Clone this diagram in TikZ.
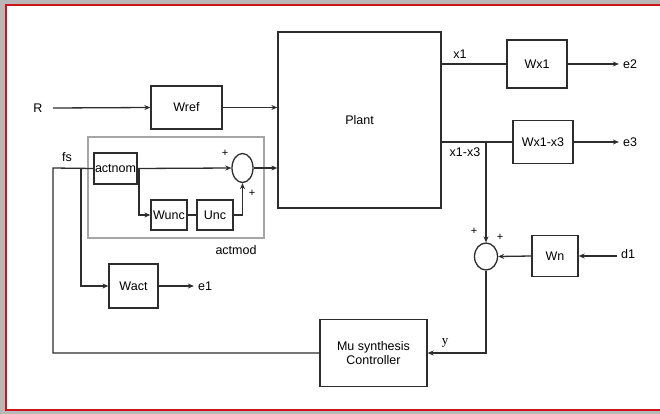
\documentclass[tikz,border=0pt]{standalone}
\usepackage{fontspec}
\setmainfont{Liberation Sans}
\newfontfamily\yfont{Liberation Serif}
\usetikzlibrary{shapes.geometric,arrows.meta,calc}
\definecolor{framered}{RGB}{205,20,25}
\definecolor{linegray}{RGB}{45,45,45}
\tikzset{
blk/.style={draw=linegray,line width=1.3pt,rectangle,inner sep=0pt,align=center,font=\fontsize{12.5}{14}\selectfont},
summer/.style={draw=linegray,line width=1.3pt,ellipse,inner sep=0pt},
sig/.style={linegray,line width=1.3pt},
flow/.style={sig,-{Stealth[length=6pt,width=5pt]}},
lbl/.style={inner sep=0pt,font=\fontsize{12.5}{14}\selectfont},
sgn/.style={inner sep=0pt,font=\fontsize{11}{12}\selectfont},
modframe/.style={draw=black!35,line width=1.2pt}
}
\begin{document}
\begin{tikzpicture}[x=1pt,y=-1pt]
% page and frame
\fill[black!28] (0,0) rectangle (660,414);
\useasboundingbox (0,0) rectangle (660,414);
\begin{scope}
\clip (0,0) rectangle (660,414);
\draw[framered,fill=white,line width=1.6pt] (6,5) rectangle (670,410);
\end{scope}
% blocks
\node[blk,minimum width=163pt,minimum height=176pt] (plant) at (359.5,120) {Plant};
\node[blk,minimum width=71pt,minimum height=43pt] (wref) at (186.5,107.5) {Wref};
\draw[modframe] (88,137) rectangle (264,238);
\node[lbl] (actmod) at (236,250) {actmod};
\node[blk,minimum width=43pt,minimum height=31pt] (actnom) at (115.5,168.5) {actnom};
\node[summer,minimum width=21pt,minimum height=29pt] (suma) at (242.5,168) {};
\node[blk,minimum width=36pt,minimum height=30pt] (wunc) at (169,215) {Wunc};
\node[blk,minimum width=36pt,minimum height=30pt] (unc) at (215,215) {Unc};
\node[blk,minimum width=49pt,minimum height=44pt] (wact) at (133.5,286) {Wact};
\node[blk,minimum width=60pt,minimum height=48pt] (wxa) at (537,64) {Wx1};
\node[blk,minimum width=60pt,minimum height=43pt] (wxb) at (543,142) {Wx1-x3};
\node[summer,minimum width=23pt,minimum height=27pt] (sumb) at (486,256.5) {};
\node[blk,minimum width=46pt,minimum height=41pt] (wn) at (555,256) {Wn};
\node[blk,minimum width=107pt,minimum height=67pt] (ctrl) at (373.5,353) {Mu synthesis\\Controller};
% labels
\node[lbl] (rlab) at (38,108) {R};
\node[lbl] (fslab) at (67,157) {fs};
\node[lbl] (eone) at (205,286) {e1};
\node[lbl] (etwo) at (630,64) {e2};
\node[lbl] (ethree) at (630,142) {e3};
\node[lbl] (done) at (628,254) {d1};
\node[lbl] (xone) at (460,54) {x1};
\node[lbl] (xthree) at (465,152) {x1-x3};
\node[lbl,font=\yfont\fontsize{13}{14}\selectfont] (ylab) at (445,343) {y};
\node[sgn] (pa) at (225,153) {+};
\node[sgn] (pb) at (252,193) {+};
\node[sgn] (pc) at (474,231) {+};
\node[sgn] (pd) at (500,237) {+};
% connectors
\coordinate (rin) at (53,108);
\coordinate (fsin) at (53,168);
\coordinate (brwact) at (81,168);
\coordinate (brwunc) at (139,168);
\coordinate (din) at (617,256);
\draw[flow] (rin) -- (wref.west);
\draw[flow] (wref.east) -- (plant.west |- wref.east);
\draw[sig] (ctrl.west) -| (fsin) -- (actnom.west);
\draw[flow] (brwact) |- (wact.west);
\draw[flow] (wact.east) -- ($(eone.west)+(-4,0)$);
\draw[flow] (actnom.east) -- (suma.west);
\draw[flow] (suma.east) -- (plant.west |- suma.east);
\draw[flow] (brwunc) |- (wunc.west);
\draw[sig] (wunc.east) -- (unc.west);
\draw[flow] (unc.east) -| (suma.south);
\draw[sig] (plant.east |- wxa.west) -- (wxa.west);
\draw[flow] (wxa.east) -- ($(etwo.west)+(-4,0)$);
\draw[sig] (plant.east |- wxb.west) -- (wxb.west);
\draw[flow] (wxb.east) -- ($(ethree.west)+(-4,0)$);
\draw[flow] (sumb.north |- wxb.west) -- (sumb.north);
\draw[flow] (din) -- (wn.east);
\draw[flow] (wn.west) -- (sumb.east);
\draw[flow] (sumb.south) |- (ctrl.east);
\end{tikzpicture}
\end{document}
